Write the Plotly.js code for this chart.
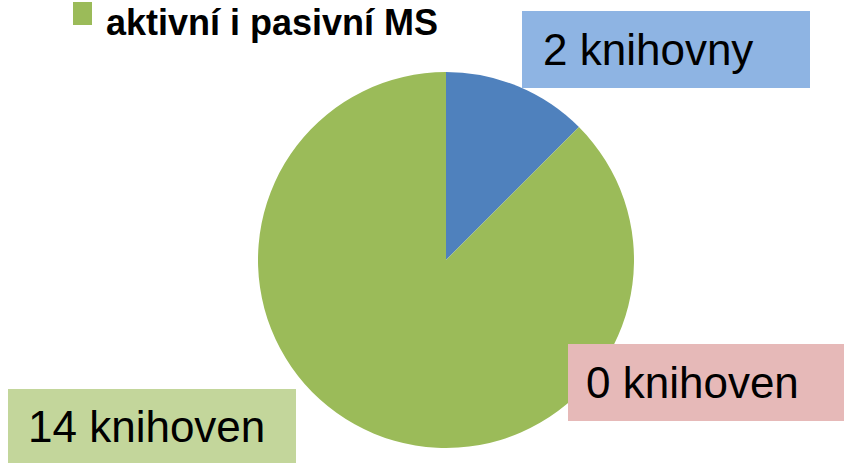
<!DOCTYPE html>
<html>
<head>
<meta charset="utf-8">
<script src="https://cdn.plot.ly/plotly-3.0.1.min.js"></script>
<style>
	html, body { margin: 0; padding: 0; background: #fff; }
	#chart { width: 844px; height: 463px; }
</style>
</head>
<body>
<div id="chart"></div>
<script>
	// slice data, in drawing order (clockwise from 12 o'clock)
	var categories = ["pouze aktivní MS", "pouze pasivní MS", "aktivní i pasivní MS"];
	var values = [2, 0, 14];
	var countWords = ["knihovny", "knihoven", "knihoven"];
	var sliceColors = ["#4F81BD", "#C0504D", "#9BBB59"];
	var boxColors = ["#8EB4E3", "#E6B9B8", "#C3D69B"];

	// label boxes (pixel boxes: left, top, right, bottom) and text left edge
	var boxes = [
		[522, 11, 810, 88],
		[568, 344, 850, 421],
		[8, 389, 296, 470]
	];
	var textLeft = [541, 584, 26];

	var W = 844, H = 463;
	function px(x) { return x / W; }
	function py(y) { return 1 - y / H; }

	var pie = {
		type: "pie",
		labels: categories,
		values: values,
		sort: false,
		direction: "clockwise",
		rotation: 0,
		textinfo: "none",
		hoverinfo: "label+value",
		marker: { colors: sliceColors, line: { width: 0 } },
		domain: { x: [px(258), px(634)], y: [py(448), py(72)] },
		showlegend: false
	};

	var shapes = [];
	var annotations = [];
	for (var i = 0; i < values.length; i++) {
		var b = boxes[i];
		shapes.push({
			type: "rect", xref: "paper", yref: "paper",
			x0: px(b[0]), x1: px(b[2]), y0: py(b[3]), y1: py(b[1]),
			fillcolor: boxColors[i], line: { width: 0 }, layer: "above"
		});
		annotations.push({
			xref: "paper", yref: "paper",
			x: px(textLeft[i]), xanchor: "left",
			y: py((b[1] + Math.min(b[3], 463)) / 2), yanchor: "middle",
			text: values[i] + " " + countWords[i],
			showarrow: false,
			font: { family: "Liberation Sans, Arial, sans-serif", size: 44, color: "#000" }
		});
	}

	// legend entry (only the last one is visible, the rest is cut off above)
	var legendIdx = 2;
	shapes.push({
		type: "rect", xref: "paper", yref: "paper",
		x0: px(73), x1: px(92), y0: py(25), y1: py(2),
		fillcolor: sliceColors[legendIdx], line: { width: 0 }
	});
	annotations.push({
		xref: "paper", yref: "paper",
		x: px(104), xanchor: "left",
		y: py(0), yanchor: "top",
		text: "<b>" + categories[legendIdx] + "</b>",
		showarrow: false,
		font: { family: "Liberation Sans, Arial, sans-serif", size: 36, color: "#000" }
	});

	var layout = {
		width: W,
		height: H,
		margin: { l: 0, r: 0, t: 0, b: 0 },
		paper_bgcolor: "#fff",
		shapes: shapes,
		annotations: annotations,
		showlegend: false
	};

	Plotly.newPlot("chart", [pie], layout, { displayModeBar: false, staticPlot: true });
</script>
</body>
</html>
